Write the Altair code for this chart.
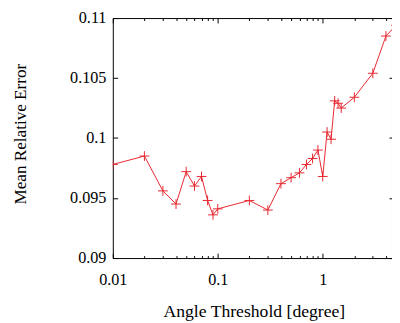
import altair as alt
import pandas as pd

angle = [0.01, 0.02, 0.03, 0.04, 0.05, 0.06, 0.07, 0.08, 0.09, 0.1,
         0.2, 0.3, 0.4, 0.5, 0.6, 0.7, 0.8, 0.9, 1.0, 1.1,
         1.2, 1.3, 1.4, 1.5, 2.0, 3.0, 4.0, 5.0]
error = [0.0978, 0.0985, 0.0956, 0.0945, 0.0972, 0.0960, 0.0968, 0.0948, 0.0936, 0.0941,
         0.0948, 0.0940, 0.0962, 0.0967, 0.0971, 0.0978, 0.0983, 0.0990, 0.0968, 0.1005,
         0.0999, 0.1031, 0.1029, 0.1025, 0.1034, 0.1054, 0.1085, 0.1094]

x_major = [0.01, 0.1, 1]
x_minor = [0.02, 0.03, 0.04, 0.05, 0.06, 0.07, 0.08, 0.09,
           0.2, 0.3, 0.4, 0.5, 0.6, 0.7, 0.8, 0.9, 2, 3, 4]
y_ticks = [0.09, 0.095, 0.1, 0.105, 0.11]

df = pd.DataFrame({"angle": angle, "error": error})

RED = "#e6262e"
FONT = "Liberation Serif"
PLUS = "M-1,0H1M0,-1V1"

x_scale = alt.Scale(type="log", domain=[0.01, 4.57], nice=False)
y_scale = alt.Scale(domain=[0.09, 0.11], nice=False, zero=False)

main = alt.Chart(df).mark_line(
    color=RED, strokeWidth=1, clip=True,
    point=alt.OverlayMarkDef(shape=PLUS, size=100, filled=False, color=RED,
                             stroke=RED, strokeWidth=1, clip=True),
).encode(
    x=alt.X("angle:Q", scale=x_scale, axis=alt.Axis(
        values=x_major, format="~g", title="Angle Threshold [degree]",
        ticks=False, tickSize=0, domain=False, labelFlush=False,
        grid=True, gridDash=[5, 235], gridColor="black", gridOpacity=1, gridWidth=1,
        labelFont=FONT, labelFontSize=16.5, labelColor="black", labelPadding=14,
        titleFont=FONT, titleFontSize=18, titleFontWeight="normal", titleColor="black",
        titleX=144, titleY=60, titleBaseline="alphabetic", titleAlign="center",
    )),
    y=alt.Y("error:Q", scale=y_scale, axis=alt.Axis(
        values=y_ticks, format="~g", title="Mean Relative Error",
        ticks=False, tickSize=0, domain=False, labelFlush=False,
        grid=True, gridDash=[5, 277, 3], gridColor="black", gridOpacity=1, gridWidth=1,
        labelFont=FONT, labelFontSize=16.5, labelColor="black", labelPadding=7,
        titleFont=FONT, titleFontSize=17.5, titleFontWeight="normal", titleColor="black",
        titleX=-94.5, titleY=118, titleAngle=270, titleBaseline="middle", titleAlign="center",
    )),
)

minor = alt.Chart(df).mark_point(opacity=0).encode(
    x=alt.X("angle:Q", scale=x_scale, axis=alt.Axis(
        values=x_minor, orient="bottom", labels=False, ticks=False, tickSize=0,
        domain=False, title=None,
        grid=True, gridDash=[2.5, 240], gridColor="black", gridOpacity=1, gridWidth=1,
    )),
    y=alt.value(0),
)

chart = alt.layer(main, minor).resolve_axis(x="independent").properties(
    width=285, height=245,
    autosize=alt.AutoSizeParams(type="none"),
    padding={"left": 107, "top": 7, "right": 0, "bottom": 62},
    background="white",
).configure_view(stroke="black", strokeWidth=1)

chart.save("out.html", embed_options={"renderer": "svg", "actions": False})
